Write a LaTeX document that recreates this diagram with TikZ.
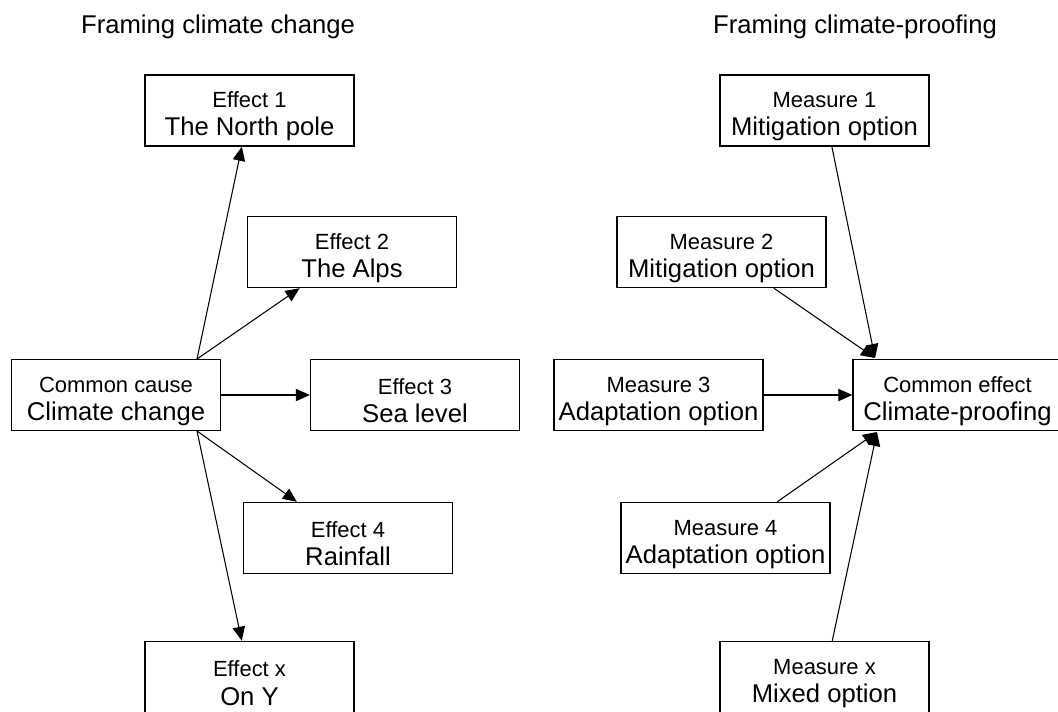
\documentclass[tikz,border=0pt]{standalone}
\usepackage{fontspec}
\setmainfont{Liberation Sans}
\usepackage{tikz}
\usetikzlibrary{positioning,arrows.meta}

\newcommand{\smalltxt}{\fontsize{12.5}{15}\selectfont}
\newcommand{\bigtxt}{\fontsize{14.6}{16}\selectfont}
\newcommand{\twolines}[2]{\smalltxt\rule{0pt}{16pt}#1\\[4pt]\bigtxt #2}

\tikzset{
  box/.style={draw,line width=0.8pt,minimum width=4.18cm,minimum height=1.42cm,align=center,inner sep=0pt},
  arr/.style={-{Triangle[length=8pt,width=7pt]},line width=0.6pt}
}

\begin{document}
\begin{tikzpicture}[x=0.02cm,y=-0.02cm]
\useasboundingbox (0,0) rectangle (1058,711);
\node (lefttitle) at (218,27) {\bigtxt Framing climate change};
\node (righttitle) at (855,27) {\bigtxt Framing climate-proofing};

\node [box] (cause) at (116,395) {\twolines{Common cause}{Climate change}};
\node [box] (e1) at (249.5,110.5) {\twolines{Effect 1}{The North pole}};
\node [box] (e2) at (352,252) {\twolines{Effect 2}{The Alps}};
\node [box] (e3) at (415,395) {\twolines{Effect 3}{Sea level}};
\node [box] (e4) at (348,538) {\twolines{Effect 4}{Rainfall}};
\node [box] (ex) at (249.5,677) {\twolines{Effect x}{On Y}};
\coordinate (ctop) at (197,359);
\coordinate (cbot) at (197,431);
\draw [arr] (ctop)--(e1);
\draw [arr] (ctop)--(e2);
\draw [arr] (cause)--(e3);
\draw [arr] (cbot)--(e4);
\draw [arr] (cbot)--(ex);

\node [box] (effect) at (957.5,395) {\twolines{Common effect}{Climate-proofing}};
\node [box] (m1) at (824.5,110.5) {\twolines{Measure 1}{Mitigation option}};
\node [box] (m2) at (721.5,252) {\twolines{Measure 2}{Mitigation option}};
\node [box] (m3) at (658.5,395) {\twolines{Measure 3}{Adaptation option}};
\node [box] (m4) at (725.5,538) {\twolines{Measure 4}{Adaptation option}};
\node [box] (mx) at (824.5,677) {\twolines{Measure x}{Mixed option}};
\coordinate (etop) at (875,358);
\coordinate (ebot) at (877,432);
\draw [arr] (m1)--(etop);
\draw [arr] (m2)--(etop);
\draw [arr] (m3)--(effect);
\draw [arr] (m4)--(ebot);
\draw [arr] (mx)--(ebot);

\end{tikzpicture}
\end{document}
